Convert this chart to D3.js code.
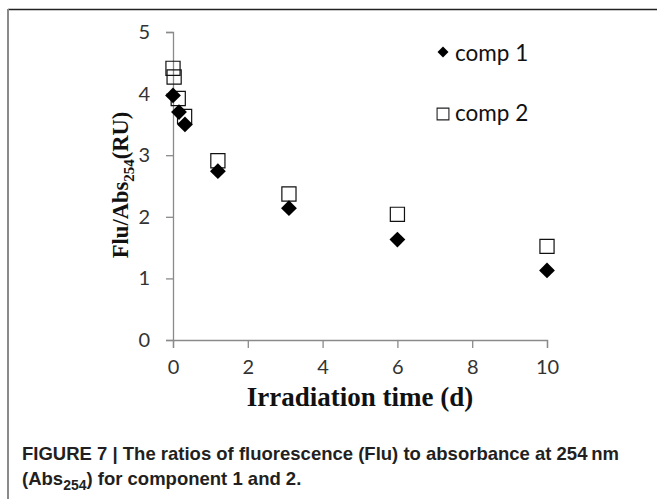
<!DOCTYPE html>
<html>
<head>
<meta charset="utf-8">
<script src="https://cdn.jsdelivr.net/npm/d3@7"></script>
<style>
  body { margin: 0; background: #fff; }
  svg { display: block; }
</style>
</head>
<body>
<div id="chart"></div>
<script>
// irradiation days and ratios
const days1 = [0, 0.16, 0.32, 1.2, 3.1, 6, 10];
const comp1 = [3.97, 3.70, 3.50, 2.74, 2.14, 1.63, 1.13];
const days2 = [0, 0.03, 0.14, 0.31, 1.2, 3.1, 6, 10];
const comp2 = [4.41, 4.27, 3.92, 3.63, 2.91, 2.37, 2.04, 1.52];
const xTicks = [0, 2, 4, 6, 8, 10];
const yTicks = [0, 1, 2, 3, 4, 5];
const seriesNames = ['comp 1', 'comp 2'];

const width = 657, height = 499;
const margin = {top: 32, right: 110, bottom: 159, left: 173};
const innerWidth = width - margin.left - margin.right;
const innerHeight = height - margin.top - margin.bottom;

const svg = d3.select('#chart').append('svg')
  .attr('width', width)
  .attr('height', height);

svg.append('rect').attr('width', width).attr('height', height).attr('fill', '#fff');

// figure frame (left + top edge)
svg.append('line')
  .attr('x1', 8).attr('x2', width).attr('y1', 9.5).attr('y2', 9.5)
  .attr('stroke', '#222').attr('stroke-width', 1.5);
svg.append('line')
  .attr('x1', 8).attr('x2', 8).attr('y1', 9).attr('y2', height)
  .attr('stroke', '#8a8a8a').attr('stroke-width', 2);

const xScale = d3.scaleLinear().domain([0, 10]).range([0, innerWidth]);
const yScale = d3.scaleLinear().domain([0, 5]).range([innerHeight, 0]);

const g = svg.append('g')
  .attr('transform', `translate(${margin.left},${margin.top})`);

const tickFont = 'Lato, "Open Sans", sans-serif';

const xAxis = d3.axisBottom(xScale)
  .tickValues(xTicks)
  .tickSize(8)
  .tickPadding(12)
  .tickFormat(d3.format('d'));

const yAxis = d3.axisLeft(yScale)
  .tickValues(yTicks)
  .tickSize(7)
  .tickPadding(16)
  .tickFormat(d3.format('d'));

const xAxisG = g.append('g')
  .attr('transform', `translate(0,${innerHeight})`)
  .call(xAxis);
const yAxisG = g.append('g').call(yAxis);

[xAxisG, yAxisG].forEach(ax => {
  ax.select('.domain').attr('stroke', '#8a8a8a').attr('stroke-width', 1.3);
  ax.selectAll('.tick line').attr('stroke', '#8a8a8a').attr('stroke-width', 1.3);
  ax.selectAll('.tick text')
    .attr('fill', '#333')
    .style('font-family', tickFont)
    .style('font-size', '20px');
});

// markers
const squareSym = d3.symbol().type(d3.symbolSquare).size(200);
const diamondSym = d3.symbol().type(d3.symbolSquare).size(125);

g.selectAll('.sq')
  .data(days2.map((d, i) => ({x: d, y: comp2[i]})))
  .join('path')
  .attr('class', 'sq')
  .attr('d', squareSym)
  .attr('transform', d => `translate(${xScale(d.x)},${yScale(d.y)})`)
  .attr('fill', 'none')
  .attr('stroke', '#111')
  .attr('stroke-width', 1.2);

g.selectAll('.dm')
  .data(days1.map((d, i) => ({x: d, y: comp1[i]})))
  .join('path')
  .attr('class', 'dm')
  .attr('d', diamondSym)
  .attr('transform', d => `translate(${xScale(d.x)},${yScale(d.y)}) rotate(45)`)
  .attr('fill', '#000');

// legend
const legend = svg.append('g').attr('transform', 'translate(443,0)');
legend.append('path')
  .attr('d', d3.symbol().type(d3.symbolSquare).size(60))
  .attr('transform', 'translate(0,52) rotate(45)')
  .attr('fill', '#000');
legend.append('path')
  .attr('d', d3.symbol().type(d3.symbolSquare).size(140))
  .attr('transform', 'translate(0,114)')
  .attr('fill', 'none')
  .attr('stroke', '#222')
  .attr('stroke-width', 1.1);
legend.selectAll('.lt')
  .data(seriesNames)
  .join('text')
  .attr('class', 'lt')
  .attr('x', 12)
  .attr('y', (d, i) => i === 0 ? 61 : 121)
  .attr('fill', '#111')
  .style('font-family', tickFont)
  .style('font-size', '22.5px')
  .text(d => d);

// axis titles
svg.append('text')
  .attr('x', 360)
  .attr('y', 406)
  .attr('text-anchor', 'middle')
  .style('font-family', '"Liberation Serif", "Times New Roman", serif')
  .style('font-weight', 'bold')
  .style('font-size', '27px')
  .attr('fill', '#111')
  .text('Irradiation time (d)');

const yLabel = svg.append('text')
  .attr('transform', 'translate(128,185) rotate(-90)')
  .attr('text-anchor', 'middle')
  .style('font-family', '"Liberation Serif", "Times New Roman", serif')
  .style('font-weight', 'bold')
  .style('font-size', '22.5px')
  .attr('fill', '#111');
yLabel.append('tspan').text('Flu/Abs');
yLabel.append('tspan').attr('dy', 6).style('font-size', '15px').text('254');
yLabel.append('tspan').attr('dy', -6).text('(RU)');

// caption
const capFont = '"Liberation Sans", Arial, sans-serif';
svg.append('text')
  .attr('x', 22)
  .attr('y', 460)
  .style('font-family', capFont)
  .style('font-weight', 'bold')
  .style('font-size', '18.5px')
  .attr('fill', '#231f20')
  .text('FIGURE 7 | The ratios of fluorescence (Flu) to absorbance at 254\u2009nm');

const cap2 = svg.append('text')
  .attr('x', 22)
  .attr('y', 485)
  .style('font-family', capFont)
  .style('font-weight', 'bold')
  .style('font-size', '18.5px')
  .attr('fill', '#231f20');
cap2.append('tspan').text('(Abs');
cap2.append('tspan').attr('dy', 5).style('font-size', '14px').text('254');
cap2.append('tspan').attr('dy', -5).text(') for component 1 and 2.');
</script>
</body>
</html>
